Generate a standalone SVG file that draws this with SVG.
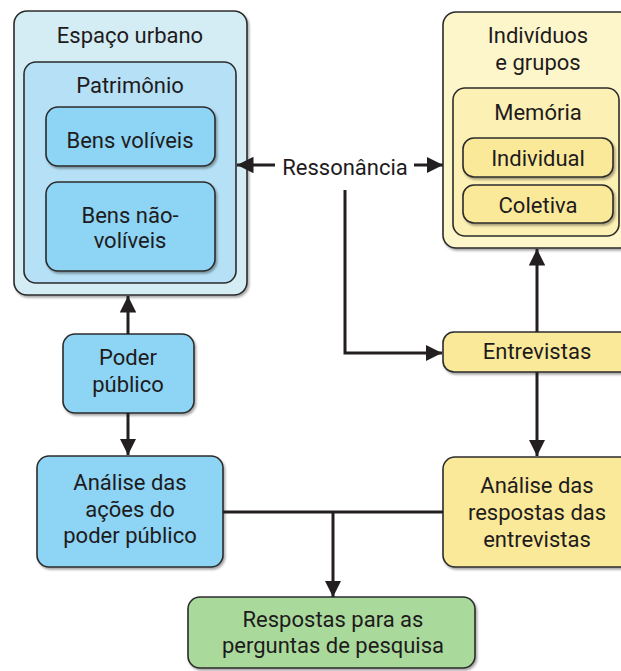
<svg xmlns="http://www.w3.org/2000/svg" width="621" height="671" viewBox="0 0 621 671">
<defs>
<style>
.box{stroke:#2b2b2b;stroke-width:1.6}
.t{font-family:Roboto,"Noto Sans",sans-serif;font-size:22px;fill:#1e1b1c;text-anchor:middle}
.c{stroke:#231f20;stroke-width:3;fill:none}
.b1{fill:#d4ecf4}.b2{fill:#b6e0f5}.b3{fill:#8dd4f5}
.y1{fill:#fdf6cb}.y2{fill:#fcf0b4}.y3{fill:#fbe99a}
.g{fill:#a9d99b}
</style>
<filter id="sh" x="-10%" y="-10%" width="130%" height="130%"><feDropShadow dx="1.5" dy="2" stdDeviation="1" flood-color="#000" flood-opacity="0.35"/></filter>
<marker id="ah" viewBox="0 0 10 10" refX="10" refY="5" markerWidth="5.5" markerHeight="5.5" markerUnits="strokeWidth" orient="auto"><path d="M0,0 L10,5 L0,10 Z" fill="#231f20"/></marker>
</defs>
<g id="espaco-urbano">
<rect class="box b1" x="14" y="11" width="233" height="284" rx="13" filter="url(#sh)"/>
<text class="t" x="130" y="43">Espaço urbano</text>
</g>
<g id="patrimonio">
<rect class="box b2" x="24" y="62" width="212" height="221" rx="12"/>
<text class="t" x="130" y="93">Patrimônio</text>
</g>
<g id="bens-voliveis">
<rect class="box b3" x="46" y="107" width="169" height="59" rx="12" filter="url(#sh)"/>
<text class="t" x="130" y="148">Bens volíveis</text>
</g>
<g id="bens-nao-voliveis">
<rect class="box b3" x="46" y="182" width="169" height="89" rx="12" filter="url(#sh)"/>
<text class="t" x="130" y="223">Bens não-</text>
<text class="t" x="130" y="248">volíveis</text>
</g>
<g id="individuos">
<rect class="box y1" x="443" y="12" width="190" height="236" rx="13" filter="url(#sh)"/>
<text class="t" x="538" y="43">Indivíduos</text>
<text class="t" x="538" y="70">e grupos</text>
</g>
<g id="memoria">
<rect class="box y2" x="453" y="88" width="166" height="148" rx="12"/>
<text class="t" x="538" y="120">Memória</text>
</g>
<g id="individual">
<rect class="box y3" x="463" y="138" width="150" height="39" rx="11" filter="url(#sh)"/>
<text class="t" x="538" y="166">Individual</text>
</g>
<g id="coletiva">
<rect class="box y3" x="463" y="185" width="150" height="38" rx="11" filter="url(#sh)"/>
<text class="t" x="538" y="213">Coletiva</text>
</g>
<g id="ressonancia">
<text class="t" x="345" y="175">Ressonância</text>
</g>
<g id="entrevistas">
<rect class="box y3" x="443" y="332" width="190" height="40" rx="11" filter="url(#sh)"/>
<text class="t" x="537" y="359">Entrevistas</text>
</g>
<g id="poder-publico">
<rect class="box b3" x="63" y="334" width="131" height="79" rx="12" filter="url(#sh)"/>
<text class="t" x="128" y="365">Poder</text>
<text class="t" x="128" y="392">público</text>
</g>
<g id="analise-acoes">
<rect class="box b3" x="37" y="456" width="186" height="111" rx="12" filter="url(#sh)"/>
<text class="t" x="130" y="490">Análise das</text>
<text class="t" x="130" y="517">ações do</text>
<text class="t" x="130" y="543">poder público</text>
</g>
<g id="analise-respostas">
<rect class="box y3" x="443" y="457" width="190" height="110" rx="12" filter="url(#sh)"/>
<text class="t" x="537" y="493">Análise das</text>
<text class="t" x="537" y="520">respostas das</text>
<text class="t" x="537" y="547">entrevistas</text>
</g>
<g id="respostas">
<rect class="box g" x="188" y="597" width="287" height="71" rx="12" filter="url(#sh)"/>
<text class="t" x="333" y="627">Respostas para as</text>
<text class="t" x="333" y="653">perguntas de pesquisa</text>
</g>
<g id="connectors">
<path class="c" d="M275,165 H237" marker-end="url(#ah)"/>
<path class="c" d="M414,165 H443" marker-end="url(#ah)"/>
<path class="c" d="M345,190 V353 H442" marker-end="url(#ah)"/>
<path class="c" d="M537,332 V249" marker-end="url(#ah)"/>
<path class="c" d="M537,372 V456" marker-end="url(#ah)"/>
<path class="c" d="M128,334 V296" marker-end="url(#ah)"/>
<path class="c" d="M128,413 V455" marker-end="url(#ah)"/>
<path class="c" d="M223,512 H443"/>
<path class="c" d="M333,512 V597" marker-end="url(#ah)"/>
</g>
</svg>
